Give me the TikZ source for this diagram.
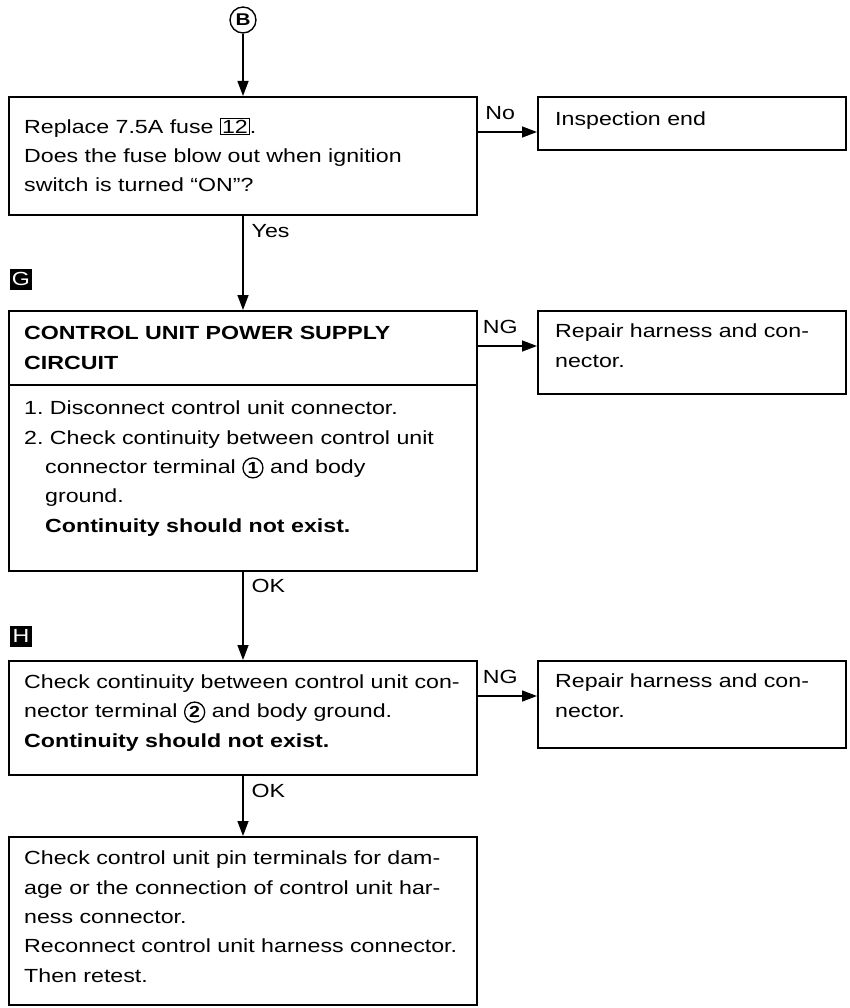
\documentclass[tikz,border=0pt]{standalone}
\usepackage{fontspec}
\setmainfont{Liberation Sans}[FakeStretch=1.22]
\usepackage{tikz}
\usetikzlibrary{arrows.meta,positioning}

\newcommand{\circnum}[1]{\tikz[baseline=(c.base)]\node[draw,circle,line width=1.3pt,inner sep=1.6pt,font=\fontsize{16}{16}\selectfont\bfseries] (c) {#1};}
\newcommand{\fusenum}[1]{\tikz[baseline=(f.base)]\node[draw,line width=1pt,inner sep=1.5pt] (f) {#1};}

\tikzset{
  box/.style={draw,line width=1.7pt,rectangle,inner sep=0pt,anchor=north west},
  txt/.style={anchor=base west,inner sep=0pt,align=left},
  lbl/.style={inner sep=0pt},
  flag/.style={fill=black,text=white,inner sep=0pt,minimum width=22pt,minimum height=21pt},
}

\frenchspacing
\begin{document}
\begin{tikzpicture}[x=1pt,y=-1pt,>={Triangle[length=15pt,width=11pt]},
    font=\fontsize{19}{29.3}\selectfont]
  \useasboundingbox (0,0) rectangle (849,1008);

  \node[draw,circle,line width=1.4pt,inner sep=2.5pt,font=\fontsize{17}{17}\selectfont\bfseries] (B) at (243,20) {B};

  % fuse check (text nodes sit on their last baseline)
  \node[box,minimum width=468pt,minimum height=118pt] (fuse) at (8,96) {};
  \node[txt] (fusetxt) at (24,192) {Replace 7.5A fuse \fusenum{12}.\\Does the fuse blow out when ignition\\switch is turned “ON”?};
  \node[box,minimum width=308pt,minimum height=53pt] (end) at (537,96) {};
  \node[txt] (endtxt) at (555,126) {Inspection end};

  % power supply circuit
  \node[flag] (G) at (21,279) {G};
  \node[box,minimum width=468pt,minimum height=260pt] (supply) at (8,310) {};
  \draw[line width=1.7pt] ([yshift=-75pt]supply.north west) -- ([yshift=-75pt]supply.north east);
  \node[txt,font=\fontsize{19}{29.3}\selectfont\bfseries] (supplyhead) at (24,369) {CONTROL UNIT POWER SUPPLY\\CIRCUIT};
  \node[txt] (supplytxt) at (24,532) {1. Disconnect control unit connector.\\2. Check continuity between control unit\\\hspace*{21pt}connector terminal \circnum{1} and body\\\hspace*{21pt}ground.\\\hspace*{21pt}\textbf{Continuity should not exist.}};
  \node[box,minimum width=308pt,minimum height=83pt] (repairA) at (537,310) {};
  \node[txt] (repairAtxt) at (555,367) {Repair harness and con-\\nector.};

  % terminal 2
  \node[flag] (H) at (21,636) {H};
  \node[box,minimum width=468pt,minimum height=114pt] (gnd) at (8,660) {};
  \node[txt] (gndtxt) at (24,747) {Check continuity between control unit con-\\nector terminal \circnum{2} and body ground.\\\textbf{Continuity should not exist.}};
  \node[box,minimum width=308pt,minimum height=87pt] (repairB) at (537,660) {};
  \node[txt] (repairBtxt) at (555,717) {Repair harness and con-\\nector.};

  % last step
  \node[box,minimum width=468pt,minimum height=168pt] (pins) at (8,836) {};
  \node[txt] (pinstxt) at (24,982) {Check control unit pin terminals for dam-\\age or the connection of control unit har-\\ness connector.\\Reconnect control unit harness connector.\\Then retest.};

  % connectors
  \begin{scope}[line width=1.4pt]
    \draw[->] (B) -- (B |- fuse.north);
    \draw[->] (fuse.south -| B) -- node[lbl,right=8pt,pos=0.16] {Yes} (supply.north -| B);
    \draw[->] (supply.south -| B) -- node[lbl,right=8pt,pos=0.16] {OK} (gnd.north -| B);
    \draw[->] (gnd.south -| B) -- node[lbl,right=8pt,pos=0.26] {OK} (pins.north -| B);
    \draw[->] ([yshift=-36pt]fuse.north east) -- node[lbl,above=12pt,pos=0.38] {No} ([yshift=-36pt]end.north west);
    \draw[->] ([yshift=-36pt]supply.north east) -- node[lbl,above=12pt,pos=0.38] {NG} ([yshift=-36pt]repairA.north west);
    \draw[->] ([yshift=-36pt]gnd.north east) -- node[lbl,above=12pt,pos=0.38] {NG} ([yshift=-36pt]repairB.north west);
  \end{scope}
\end{tikzpicture}
\end{document}
